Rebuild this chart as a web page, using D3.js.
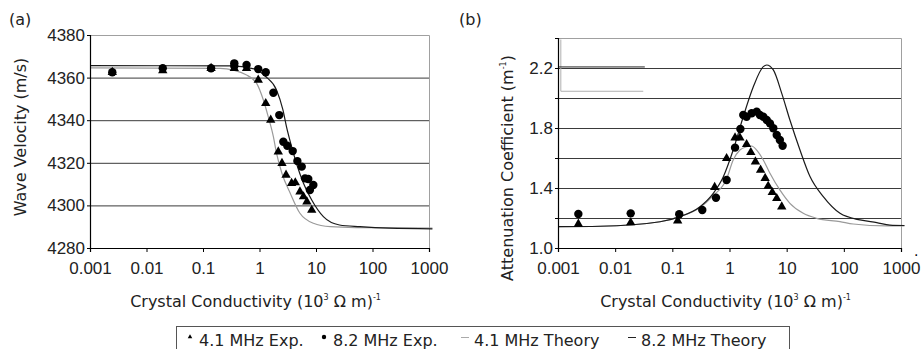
<html>
<head>
    <meta charset="utf-8" />
    <script src="https://cdn.jsdelivr.net/npm/d3@7"></script>
</head>
<style>
    body { margin: 0; background: #fff; }
    svg { font-family: "DejaVu Sans", sans-serif; }
    .grid line { stroke: #3a3a3a; stroke-width: 1px; }
    .frame { stroke: #a0a0a0; stroke-width: 1px; fill: none; }
    .axis path, .axis line { stroke: #000; }
    .axis text { font-size: 17px; fill: #222; }
</style>
<body>
<svg id="chart" width="922" height="349"></svg>
<script>
    // x positions shared by both panels: conductivity in 10^3 (ohm m)^-1
    var xTicks = [0.001, 0.01, 0.1, 1, 10, 100, 1000];
    var xTickLabels = ["0.001", "0.01", "0.1", "1", "10", "100", "1000"];

    // panel (a): wave velocity, m/s
    var velTicks = [4280, 4300, 4320, 4340, 4360, 4380];
    var tri4x = [0.00248, 0.0194, 0.139, 0.358, 0.59, 0.95, 1.29, 1.58, 2.15, 2.5, 2.95, 3.7, 4.3, 5.2, 6.0, 6.9, 8.4];
    var tri4v = [4362.5, 4363.3, 4364.4, 4364.4, 4364.4, 4358.9, 4347.9, 4340.1, 4325.2, 4319.8, 4314.3, 4310.4, 4310.7, 4306.4, 4304.1, 4301.7, 4297.8];
    var circ8x = [0.00248, 0.0194, 0.139, 0.358, 0.358, 0.59, 0.95, 1.29, 1.76, 2.24, 2.64, 3.1, 3.87, 4.68, 5.59, 6.39, 7.3, 7.8, 8.97];
    var circ8v = [4362.5, 4364.4, 4364.4, 4366.7, 4365.4, 4365.9, 4364, 4362.5, 4352.9, 4342.4, 4329.9, 4328, 4325.5, 4320.8, 4318.2, 4312.7, 4312.4, 4307.2, 4309.6];
    var th4vx = [0.001, 0.2, 0.59, 0.89, 1.17, 1.43, 1.76, 2.0, 2.5, 3.5, 5.2, 9, 18, 50, 1150];
    var th4v = [4364.6, 4364.3, 4361.2, 4357.3, 4349.5, 4341.6, 4332.3, 4324.5, 4315, 4305.7, 4296.3, 4291.6, 4290, 4289.6, 4289.4];
    var th8vx = [0.001, 0.3, 0.8, 1.3, 2.0, 2.6, 3.0, 3.7, 4.5, 6.0, 8.4, 13.5, 26, 60, 200, 1150];
    var th8v = [4365.6, 4365.5, 4364.1, 4360.4, 4354.2, 4344.8, 4337, 4327.6, 4319.8, 4310.4, 4302.5, 4294.7, 4290.8, 4290, 4289.3, 4289];

    // panel (b): attenuation coefficient, 1/m
    var attTicks = [1.0, 1.2, 1.4, 1.6, 1.8, 2.0, 2.2];
    var attLabels = ["1.0", "", "1.4", "", "1.8", "", "2.2"];
    var tri4ax = [0.00227, 0.0187, 0.124, 0.55, 0.89, 1.25, 1.52, 1.99, 2.36, 2.84, 3.5, 4.2, 4.75, 5.6, 6.7, 8.2];
    var tri4a = [1.16, 1.169, 1.182, 1.405, 1.598, 1.735, 1.735, 1.691, 1.638, 1.575, 1.52, 1.465, 1.413, 1.371, 1.331, 1.275];
    var circ8ax = [0.00227, 0.0187, 0.132, 0.334, 0.58, 0.89, 1.25, 1.55, 1.74, 1.99, 2.44, 2.99, 3.4, 3.9, 4.48, 5.1, 5.84, 6.7, 7.6, 8.5];
    var circ8a = [1.227, 1.231, 1.225, 1.253, 1.335, 1.453, 1.669, 1.793, 1.887, 1.875, 1.898, 1.909, 1.887, 1.875, 1.853, 1.831, 1.798, 1.753, 1.72, 1.682];
    var th4ax = [0.001, 0.0054, 0.061, 0.136, 0.305, 0.52, 0.89, 1.16, 1.52, 1.99, 2.44, 2.99, 3.9, 5.1, 7.6, 11.4, 19.5, 33.5, 85.7, 146, 561, 1150];
    var th4a = [1.142, 1.145, 1.175, 1.209, 1.27, 1.35, 1.46, 1.587, 1.653, 1.675, 1.68, 1.653, 1.587, 1.498, 1.387, 1.298, 1.231, 1.198, 1.176, 1.16, 1.147, 1.147];
    var th8ax = [0.001, 0.0054, 0.061, 0.136, 0.305, 0.52, 0.78, 1.16, 1.74, 2.61, 3.9, 4.48, 5.84, 8.2, 11.4, 17.1, 25.6, 43.7, 85.7, 192, 377, 641, 1150];
    var th8a = [1.142, 1.145, 1.175, 1.209, 1.275, 1.364, 1.475, 1.653, 1.875, 2.075, 2.209, 2.22, 2.187, 2.031, 1.853, 1.653, 1.476, 1.342, 1.231, 1.187, 1.169, 1.153, 1.15];

    var legendNames = ["4.1 MHz Exp.", "8.2 MHz Exp.", "4.1 MHz Theory", "8.2 MHz Theory"];

    var svg = d3.select("#chart");
    var zip = function(xs, ys) { return xs.map(function(d, i) { return [d, ys[i]]; }); };

    function panel(opt) {
        var x = d3.scaleLog().domain([0.001, 1000]).range(opt.xr);
        var y = d3.scaleLinear().domain(opt.yd).range([248, opt.top]);
        var g = svg.append("g");

        // horizontal grid (not at bottom), grey frame on top/right
        g.append("g").attr("class", "grid")
            .selectAll("line").data(opt.grid).enter().append("line")
            .attr("x1", x(0.001)).attr("x2", x(1000))
            .attr("y1", function(d) { return y(d) + 0.5; })
            .attr("y2", function(d) { return y(d) + 0.5; });
        g.append("path").attr("class", "frame")
            .attr("d", "M" + x(0.001) + "," + (y(opt.yd[1]) + 0.5) + "H" + (x(1000) + 0.5) + "V" + y(opt.yd[0]));

        if (opt.extra) opt.extra(g, x, y);

        var line = d3.line().x(function(d) { return x(d[0]); }).y(function(d) { return y(d[1]); })
            .curve(d3.curveMonotoneX);
        g.append("path").datum(zip(opt.th4[0], opt.th4[1])).attr("d", line)
            .attr("fill", "none").attr("stroke", "#9a9a9a").attr("stroke-width", 1.2);
        g.append("path").datum(zip(opt.th8[0], opt.th8[1])).attr("d", line)
            .attr("fill", "none").attr("stroke", "#1a1a1a").attr("stroke-width", 1.2);

        g.selectAll("path.tri").data(zip(opt.tri[0], opt.tri[1])).enter().append("path")
            .attr("class", "tri")
            .attr("d", d3.symbol().type(d3.symbolTriangle).size(38))
            .attr("transform", function(d) { return "translate(" + x(d[0]) + "," + y(d[1]) + ")"; })
            .attr("fill", "#000");
        g.selectAll("circle").data(zip(opt.circ[0], opt.circ[1])).enter().append("circle")
            .attr("cx", function(d) { return x(d[0]); })
            .attr("cy", function(d) { return y(d[1]); })
            .attr("r", 4.2).attr("fill", "#000");

        // axes
        g.append("g").attr("class", "axis")
            .attr("transform", "translate(" + x(0.001) + ",0)")
            .call(d3.axisLeft(y).tickValues(opt.yTicks).tickSize(3).tickPadding(2)
                .tickFormat(function(d, i) { return opt.yLabels[i]; }));
        g.append("g").attr("class", "axis")
            .attr("transform", "translate(0," + y(opt.yd[0]) + ")")
            .call(d3.axisBottom(x).tickValues(xTicks).tickSize(4).tickPadding(10)
                .tickFormat(function(d, i) { return xTickLabels[i]; }));
        g.selectAll(".axis .domain").attr("stroke-width", 1.2);

        // axis titles
        var t = g.append("text").attr("x", (opt.xr[0] + opt.xr[1]) / 2 - 4).attr("y", 307)
            .attr("text-anchor", "middle").attr("font-size", 16).attr("fill", "#222");
        t.append("tspan").text("Crystal Conductivity (10");
        t.append("tspan").text("3").attr("dy", -7).attr("font-size", 8);
        t.append("tspan").text(" \u03A9 m)").attr("dy", 7);
        t.append("tspan").text("-1").attr("dy", -7).attr("font-size", 8);

        var yt = g.append("text").attr("transform", "translate(" + opt.ytx + "," + opt.yty + ") rotate(-90)")
            .attr("text-anchor", "middle").attr("font-size", 16).attr("fill", "#222");
        opt.ytitle(yt);

        g.append("text").attr("x", opt.tagx).attr("y", 25).attr("font-size", 16).attr("fill", "#222").text(opt.tag);
    }

    panel({
        xr: [90, 429], yd: [4280, 4380], top: 35, grid: [4300, 4320, 4340, 4360],
        yTicks: velTicks, yLabels: velTicks.map(String),
        th4: [th4vx, th4v], th8: [th8vx, th8v], tri: [tri4x, tri4v], circ: [circ8x, circ8v],
        ytx: 26, yty: 137, tag: "(a)", tagx: 9,
        ytitle: function(t) { t.text("Wave Velocity (m/s)"); }
    });

    panel({
        xr: [558, 901], yd: [1.0, 2.4], top: 38, grid: [1.2, 1.4, 1.6, 1.8, 2.0, 2.2],
        yTicks: attTicks, yLabels: attLabels,
        th4: [th4ax, th4a], th8: [th8ax, th8a], tri: [tri4ax, tri4a], circ: [circ8ax, circ8a],
        ytx: 513, yty: 168, tag: "(b)", tagx: 459,
        ytitle: function(t) {
            t.append("tspan").text("Attenuation Coefficient (m");
            t.append("tspan").text("-1").attr("dy", -7).attr("font-size", 8);
            t.append("tspan").text(")").attr("dy", 7);
        },
        extra: function(g, x, y) {
            // leftover legend frame inside the plot
            g.append("path").attr("d", "M" + (x(0.00112)) + "," + y(2.39) + "V" + y(2.045) + "H" + x(0.031))
                .attr("fill", "none").attr("stroke", "#b0b0b0");
            g.append("line").attr("x1", x(0.001)).attr("x2", x(0.033))
                .attr("y1", y(2.207)).attr("y2", y(2.207)).attr("stroke", "#222");
            g.append("text").attr("x", x(1000) + 13).attr("y", 256).attr("font-size", 14).text(".");
        }
    });

    // legend
    var leg = svg.append("g");
    leg.append("rect").attr("x", 176.5).attr("y", 326.5).attr("width", 613).attr("height", 30)
        .attr("fill", "none").attr("stroke", "#555");
    var items = [
        { x: 190, text: legendNames[0] },
        { x: 324, text: legendNames[1] },
        { x: 465, text: legendNames[2] },
        { x: 632, text: legendNames[3] }
    ];
    leg.append("path").attr("d", d3.symbol().type(d3.symbolTriangle).size(9))
        .attr("transform", "translate(" + items[0].x + ",337)");
    leg.append("circle").attr("cx", items[1].x).attr("cy", 337).attr("r", 2.2);
    leg.append("line").attr("x1", items[2].x - 4).attr("x2", items[2].x + 4).attr("y1", 337.5).attr("y2", 337.5)
        .attr("stroke", "#aaa");
    leg.append("line").attr("x1", items[3].x - 4).attr("x2", items[3].x + 4).attr("y1", 337.5).attr("y2", 337.5)
        .attr("stroke", "#222");
    leg.selectAll("text").data(items).enter().append("text")
        .attr("x", function(d) { return d.x + 9; }).attr("y", 346)
        .attr("font-size", 16).attr("fill", "#222")
        .text(function(d) { return d.text; });
</script>
</body>
</html>
